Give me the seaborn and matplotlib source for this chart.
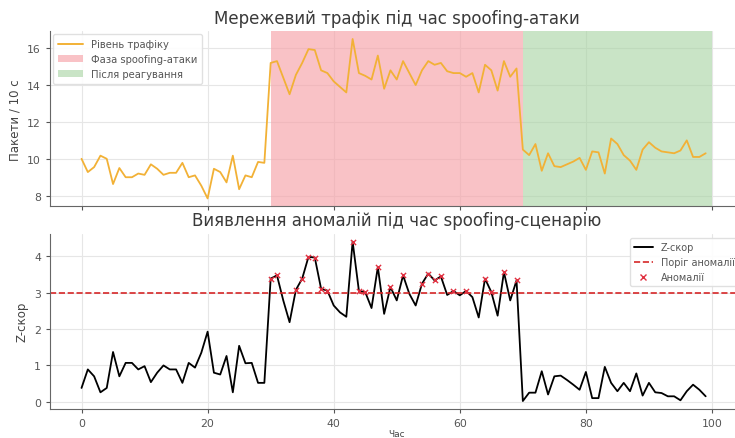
import numpy as np
import pandas as pd
import matplotlib
matplotlib.use("Agg")
import matplotlib.pyplot as plt
import seaborn as sns
from matplotlib.patches import Patch
from matplotlib.lines import Line2D

# ---- data ----
time = list(range(100))
traffic = [10.0, 9.28, 9.55, 10.17, 10.0, 8.63, 9.5, 9.0, 9.0, 9.2,
           9.13, 9.7, 9.46, 9.13, 9.24, 9.24, 9.78, 9.0, 9.1, 8.54,
           7.85, 9.46, 9.28, 8.72, 10.17, 8.35, 9.1, 9.0, 9.83, 9.78,
           15.2, 15.3, 14.4, 13.5, 14.55, 15.2, 15.95, 15.9, 14.8, 14.65,
           14.2, 13.9, 13.6, 16.5, 14.65, 14.5, 14.3, 15.6, 13.8, 14.8,
           14.3, 15.3, 14.65, 14.0, 14.8, 15.3, 15.1, 15.2, 14.75, 14.65,
           14.65, 14.45, 14.65, 13.6, 15.1, 14.8, 13.7, 15.3, 14.45, 14.9,
           10.5, 10.2, 10.8, 9.35, 10.3, 9.6, 9.55, 9.7, 9.85, 10.05,
           9.4, 10.4, 10.35, 9.2, 11.1, 10.8, 10.2, 9.9, 9.4, 10.5,
           10.9, 10.6, 10.4, 10.35, 10.3, 10.45, 11.0, 10.1, 10.1, 10.3]
zscore = [0.38, 0.89, 0.7, 0.26, 0.38, 1.37, 0.7, 1.07, 1.07, 0.89,
          0.98, 0.54, 0.8, 1.0, 0.89, 0.89, 0.52, 1.07, 0.94, 1.35,
          1.93, 0.8, 0.75, 1.26, 0.26, 1.54, 1.06, 1.07, 0.52, 0.52,
          3.39, 3.48, 2.79, 2.19, 3.08, 3.39, 3.99, 3.97, 3.11, 3.06,
          2.65, 2.46, 2.34, 4.41, 3.05, 3.02, 2.58, 3.71, 2.42, 3.16,
          2.79, 3.48, 2.97, 2.65, 3.25, 3.53, 3.34, 3.45, 2.94, 3.05,
          2.93, 3.05, 2.88, 2.32, 3.39, 3.02, 2.37, 3.57, 2.79, 3.34,
          0.02, 0.25, 0.25, 0.84, 0.2, 0.7, 0.72, 0.6, 0.47, 0.33,
          0.82, 0.1, 0.1, 0.96, 0.52, 0.29, 0.52, 0.29, 0.78, 0.17,
          0.52, 0.26, 0.24, 0.15, 0.15, 0.04, 0.29, 0.47, 0.33, 0.15]
threshold = 3.0
attack_phase = (30, 70)
response_phase = (70, 100)

title_top = "Мережевий трафік під час spoofing-атаки"
title_bottom = "Виявлення аномалій під час spoofing-сценарію"
ylabel_top = "Пакети / 10 с"
ylabel_bottom = "Z-скор"
xlabel = "Час"
legend_top = ["Рівень трафіку", "Фаза spoofing-атаки", "Після реагування"]
legend_bottom = ["Z-скор", "Поріг аномалії", "Аномалії"]

df = pd.DataFrame({"t": time, "traffic": traffic, "z": zscore})
anom = df[df["z"] > threshold]

# ---- style ----
sns.set_style("whitegrid", {"grid.color": "#e6e6e6", "axes.edgecolor": "#666666",
                            "axes.linewidth": 1.0, "xtick.bottom": True, "ytick.left": True})
plt.rcParams["font.family"] = ["DejaVu Sans"]
plt.rcParams["xtick.color"] = "#555555"
plt.rcParams["ytick.color"] = "#555555"
plt.rcParams["xtick.major.size"] = 3
plt.rcParams["ytick.major.size"] = 3

fig, (ax1, ax2) = plt.subplots(2, 1, sharex=True, figsize=(7.35, 4.39), dpi=100)
fig.subplots_adjust(left=50/735, right=743.5/735, top=1-32/439, bottom=1-410/439, hspace=0.155)

traffic_color = "#f2b136"
red_span = "#f6a0a6"
green_span = "#a6d3a0"
ax1.axvspan(*attack_phase, color=red_span, alpha=0.64, lw=0)
ax1.axvspan(*response_phase, color=green_span, alpha=0.6, lw=0)
sns.lineplot(data=df, x="t", y="traffic", ax=ax1, color=traffic_color, lw=1.3)
ax1.set_title(title_top, fontsize=12, color="#3a3a3a", pad=6)
ax1.set_ylabel(ylabel_top, fontsize=8.5, color="#444444")
ax1.set_xlabel("")
ax1.set_yticks([8, 10, 12, 14, 16])
ax1.tick_params(labelsize=7.8)
h1 = [Line2D([0], [0], color=traffic_color, lw=1.4),
      Patch(color=red_span, alpha=0.64, lw=0),
      Patch(color=green_span, alpha=0.6, lw=0)]
ax1.legend(h1, legend_top, loc="upper left", fontsize=7.2, frameon=True,
           edgecolor="#dddddd", framealpha=0.9, handlelength=2.5, borderpad=0.5,
           borderaxespad=0.3, labelcolor="#555555")

sns.lineplot(data=df, x="t", y="z", ax=ax2, color="black", lw=1.3)
ax2.axhline(threshold, color="#d62728", ls="--", lw=1.2)
sns.scatterplot(data=anom, x="t", y="z", ax=ax2, marker="x", color="#e03040",
                s=14, linewidth=1.0, zorder=5)
ax2.set_title(title_bottom, fontsize=12, color="#3a3a3a", pad=6)
ax2.set_ylabel(ylabel_bottom, fontsize=8.5, color="#444444")
ax2.set_xlabel(xlabel, fontsize=6.5, color="#444444", labelpad=1)
ax2.set_yticks([0, 1, 2, 3, 4])
ax2.set_xticks([0, 20, 40, 60, 80, 100])
ax2.tick_params(labelsize=7.8)
h2 = [Line2D([0], [0], color="black", lw=1.4),
      Line2D([0], [0], color="#d62728", ls="--", lw=1.2),
      Line2D([0], [0], marker="x", color="#e03040", ls="", markersize=4)]
ax2.legend(h2, legend_bottom, loc="upper right", fontsize=7, frameon=True,
           edgecolor="#dddddd", framealpha=0.9, handlelength=2.0,
           labelcolor="#555555")

for ax in (ax1, ax2):
    sns.despine(ax=ax)
    ax.set_xlim(-5, 105)

fig.savefig("out.png", dpi=100)
